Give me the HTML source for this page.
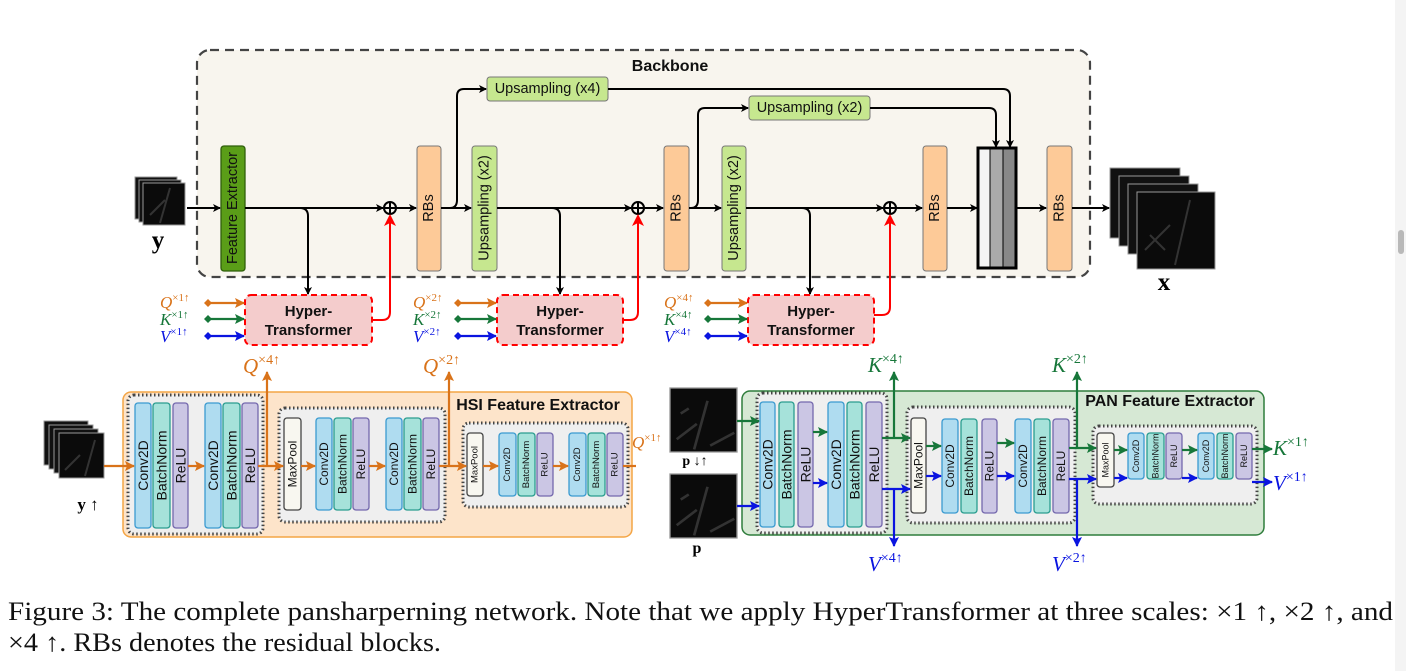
<!DOCTYPE html>
<html><head><meta charset="utf-8"><style>
html,body{margin:0;padding:0;background:#fff;}
svg{display:block;}
.lt{font-family:"Liberation Sans",sans-serif;fill:#111;}
.c{fill:#afdcf0;stroke:#3a9ad0;stroke-width:1.3}
.b{fill:#a6e2da;stroke:#2a9d8f;stroke-width:1.3}
.r{fill:#cbc6e4;stroke:#7468ad;stroke-width:1.3}
.m{fill:#f8f7f0;stroke:#444;stroke-width:1.3}
.k{stroke:#000;stroke-width:2;fill:none}
.rd{stroke:#f00;stroke-width:2;fill:none}
.o{stroke:#d9731a;stroke-width:2.2;fill:none}
.g{stroke:#17773a;stroke-width:2.2;fill:none}
.u{stroke:#0a14e0;stroke-width:2.2;fill:none}
.mt{font-family:"Liberation Serif",serif;font-style:italic;}
.sp{font-family:"Liberation Serif",serif;font-style:normal;}
</style></head><body>
<svg width="1406" height="671" viewBox="0 0 1406 671" xmlns="http://www.w3.org/2000/svg">
<defs>
<marker id="ak" markerWidth="8" markerHeight="8" refX="7" refY="4" orient="auto" markerUnits="userSpaceOnUse"><path d="M0,0 L8,4 L0,8 L2,4z" fill="#000"/></marker>
<marker id="ar" markerWidth="12" markerHeight="12" refX="10" refY="6" orient="auto" markerUnits="userSpaceOnUse"><path d="M0,0 L12,6 L0,12 L3,6z" fill="#f00"/></marker>
<marker id="ao" markerWidth="10" markerHeight="10" refX="9" refY="5" orient="auto" markerUnits="userSpaceOnUse"><path d="M0,0 L10,5 L0,10 L2,5z" fill="#d9731a"/></marker>
<marker id="ag" markerWidth="10" markerHeight="10" refX="9" refY="5" orient="auto" markerUnits="userSpaceOnUse"><path d="M0,0 L10,5 L0,10 L2,5z" fill="#17773a"/></marker>
<marker id="au" markerWidth="10" markerHeight="10" refX="9" refY="5" orient="auto" markerUnits="userSpaceOnUse"><path d="M0,0 L10,5 L0,10 L2,5z" fill="#0a14e0"/></marker>
<marker id="do" markerWidth="8" markerHeight="8" refX="4" refY="4" orient="auto" markerUnits="userSpaceOnUse"><path d="M0,4 L4,0 L8,4 L4,8z" fill="#d9731a"/></marker>
<marker id="dg" markerWidth="8" markerHeight="8" refX="4" refY="4" orient="auto" markerUnits="userSpaceOnUse"><path d="M0,4 L4,0 L8,4 L4,8z" fill="#17773a"/></marker>
<marker id="du" markerWidth="8" markerHeight="8" refX="4" refY="4" orient="auto" markerUnits="userSpaceOnUse"><path d="M0,4 L4,0 L8,4 L4,8z" fill="#0a14e0"/></marker>
<g id="img"><rect x="0" y="0" width="50" height="50" fill="#0b0b0b" stroke="#999" stroke-width="1"/><path d="M5,40 L20,28 M28,10 L18,48 M30,45 L48,35 M8,20 L14,16" stroke="#333" stroke-width="2"/></g>
</defs>
<rect x="1395" y="0" width="11" height="671" fill="#f4f4f4"/>
<rect x="1398" y="230" width="6" height="24" rx="3" fill="#b9b9b9"/>

<!-- Backbone -->
<rect x="197" y="50" width="893" height="227" rx="13" fill="#f8f5ee" stroke="#444" stroke-width="2.2" stroke-dasharray="9,6"/>
<text x="670" y="71" class="lt" font-size="16" font-weight="bold" text-anchor="middle">Backbone</text>

<!-- input cube y -->
<g><rect x="135" y="177" width="42" height="42" fill="#111" stroke="#999"/><rect x="139" y="180" width="42" height="42" fill="#111" stroke="#999"/><rect x="143" y="183" width="42" height="42" fill="#0b0b0b" stroke="#999"/><path d="M150,215 L165,200 M170,188 L160,223" stroke="#333" stroke-width="2"/></g>
<text x="158" y="248" font-family="Liberation Serif,serif" font-weight="bold" font-size="25" text-anchor="middle">y</text>

<!-- boxes -->
<rect x="221" y="146" width="24" height="125" rx="3" fill="#5a9d18" stroke="#2f5f0a" stroke-width="1.3"/>
<text transform="translate(233,208) rotate(-90)" class="lt" font-size="14.5" text-anchor="middle" dominant-baseline="central">Feature Extractor</text>
<rect x="417" y="146" width="24" height="125" rx="3" fill="#fdca98" stroke="#777" stroke-width="1"/>
<text transform="translate(429,208) rotate(-90)" class="lt" font-size="14.5" text-anchor="middle" dominant-baseline="central">RBs</text>
<rect x="472" y="146" width="25" height="125" rx="3" fill="#c6e78f" stroke="#777" stroke-width="1"/>
<text transform="translate(484.5,208) rotate(-90)" class="lt" font-size="14.5" text-anchor="middle" dominant-baseline="central">Upsampling (x2)</text>
<rect x="664" y="146" width="25" height="125" rx="3" fill="#fdca98" stroke="#777" stroke-width="1"/>
<text transform="translate(676.5,208) rotate(-90)" class="lt" font-size="14.5" text-anchor="middle" dominant-baseline="central">RBs</text>
<rect x="722" y="146" width="24" height="125" rx="3" fill="#c6e78f" stroke="#777" stroke-width="1"/>
<text transform="translate(734,208) rotate(-90)" class="lt" font-size="14.5" text-anchor="middle" dominant-baseline="central">Upsampling (x2)</text>
<rect x="923" y="146" width="24" height="125" rx="3" fill="#fdca98" stroke="#777" stroke-width="1"/>
<text transform="translate(935,208) rotate(-90)" class="lt" font-size="14.5" text-anchor="middle" dominant-baseline="central">RBs</text>
<rect x="1047" y="146" width="25" height="125" rx="3" fill="#fdca98" stroke="#777" stroke-width="1"/>
<text transform="translate(1059.5,208) rotate(-90)" class="lt" font-size="14.5" text-anchor="middle" dominant-baseline="central">RBs</text>
<rect x="487" y="77" width="121" height="24" rx="3" fill="#c6e78f" stroke="#777" stroke-width="1"/>
<text x="547.5" y="89" class="lt" font-size="14.5" text-anchor="middle" dominant-baseline="central">Upsampling (x4)</text>
<rect x="749" y="96" width="121" height="24" rx="3" fill="#c6e78f" stroke="#777" stroke-width="1"/>
<text x="809.5" y="108" class="lt" font-size="14.5" text-anchor="middle" dominant-baseline="central">Upsampling (x2)</text>
<!-- concat -->
<rect x="978" y="148" width="12" height="120" fill="#f4f4f4"/><rect x="990" y="148" width="13" height="120" fill="#aaa"/><rect x="1003" y="148" width="13" height="120" fill="#888"/>
<rect x="978" y="148" width="38" height="120" fill="none" stroke="#000" stroke-width="3"/>
<line x1="990" y1="148" x2="990" y2="268" stroke="#000"/><line x1="1003" y1="148" x2="1003" y2="268" stroke="#000"/>

<!-- output cube -->
<g><rect x="1110" y="168" width="70" height="70" fill="#111" stroke="#999"/><rect x="1119" y="176" width="70" height="70" fill="#111" stroke="#999"/><rect x="1128" y="184" width="70" height="70" fill="#111" stroke="#999"/><rect x="1137" y="192" width="78" height="77" fill="#0b0b0b" stroke="#999"/><path d="M1145,250 L1170,225 M1190,200 L1175,265 M1150,235 L1165,250" stroke="#333" stroke-width="2"/></g>
<text x="1164" y="290" font-family="Liberation Serif,serif" font-weight="bold" font-size="25" text-anchor="middle">x</text>

<!-- backbone connectors -->
<line class="k" x1="187" y1="208" x2="220" y2="208" marker-end="url(#ak)"/>
<line class="k" x1="245" y1="208" x2="383" y2="208" marker-end="url(#ak)"/>
<path class="k" d="M300,208 Q308,208 308,216 L308,294" marker-end="url(#ak)"/>
<line class="k" x1="396" y1="208" x2="416" y2="208" marker-end="url(#ak)"/>
<line class="k" x1="441" y1="208" x2="471" y2="208" marker-end="url(#ak)"/>
<path class="k" d="M450,208 Q457,208 457,200 L457,96 Q457,89 464,89 L486,89" marker-end="url(#ak)"/>
<line class="k" x1="497" y1="208" x2="631" y2="208" marker-end="url(#ak)"/>
<path class="k" d="M552,208 Q560,208 560,216 L560,294" marker-end="url(#ak)"/>
<line class="k" x1="644" y1="208" x2="663" y2="208" marker-end="url(#ak)"/>
<line class="k" x1="689" y1="208" x2="721" y2="208" marker-end="url(#ak)"/>
<path class="k" d="M691,208 Q698,208 698,200 L698,115 Q698,108 705,108 L748,108" marker-end="url(#ak)"/>
<line class="k" x1="746" y1="208" x2="883" y2="208" marker-end="url(#ak)"/>
<path class="k" d="M802,208 Q810,208 810,216 L810,294" marker-end="url(#ak)"/>
<line class="k" x1="896" y1="208" x2="922" y2="208" marker-end="url(#ak)"/>
<line class="k" x1="947" y1="208" x2="977" y2="208" marker-end="url(#ak)"/>
<line class="k" x1="1016" y1="208" x2="1046" y2="208" marker-end="url(#ak)"/>
<line class="k" x1="1072" y1="208" x2="1109" y2="208" marker-end="url(#ak)"/>
<path class="k" d="M608,89 L1003,89 Q1010,89 1010,96 L1010,147" marker-end="url(#ak)"/>
<path class="k" d="M870,108 L989,108 Q996,108 996,115 L996,147" marker-end="url(#ak)"/>
<!-- oplus -->
<g fill="none" stroke="#000" stroke-width="2"><circle cx="390" cy="208" r="6"/><path d="M384,208h12M390,202v12"/><circle cx="638" cy="208" r="6"/><path d="M632,208h12M638,202v12"/><circle cx="890" cy="208" r="6"/><path d="M884,208h12M890,202v12"/></g>
<!-- red -->
<path class="rd" d="M372,320 L382,320 Q390,320 390,312 L390,216" marker-end="url(#ar)"/>
<path class="rd" d="M623,320 L630,320 Q638,320 638,312 L638,216" marker-end="url(#ar)"/>
<path class="rd" d="M874,315 L882,315 Q890,315 890,307 L890,216" marker-end="url(#ar)"/>

<!-- Hyper-transformers -->
<g class="lt" font-size="15" font-weight="bold" text-anchor="middle">
<rect x="245" y="295" width="127" height="50" rx="6" fill="#f4cccc" stroke="#f00" stroke-width="2" stroke-dasharray="6,4"/>
<text x="308.5" y="316">Hyper-</text><text x="308.5" y="335">Transformer</text>
<rect x="497" y="295" width="126" height="50" rx="6" fill="#f4cccc" stroke="#f00" stroke-width="2" stroke-dasharray="6,4"/>
<text x="560" y="316">Hyper-</text><text x="560" y="335">Transformer</text>
<rect x="748" y="295" width="126" height="50" rx="6" fill="#f4cccc" stroke="#f00" stroke-width="2" stroke-dasharray="6,4"/>
<text x="811" y="316">Hyper-</text><text x="811" y="335">Transformer</text>
</g>
<!-- QKV inputs -->
<g font-size="17">
<text x="160" y="308" class="mt" fill="#d9731a">Q<tspan class="sp" font-size="11" dy="-7">×1↑</tspan></text>
<text x="160" y="325" class="mt" fill="#17773a">K<tspan class="sp" font-size="11" dy="-7">×1↑</tspan></text>
<text x="160" y="342" class="mt" fill="#0a14e0">V<tspan class="sp" font-size="11" dy="-7">×1↑</tspan></text>
<text x="413" y="308" class="mt" fill="#d9731a">Q<tspan class="sp" font-size="11" dy="-7">×2↑</tspan></text>
<text x="413" y="325" class="mt" fill="#17773a">K<tspan class="sp" font-size="11" dy="-7">×2↑</tspan></text>
<text x="413" y="342" class="mt" fill="#0a14e0">V<tspan class="sp" font-size="11" dy="-7">×2↑</tspan></text>
<text x="664" y="308" class="mt" fill="#d9731a">Q<tspan class="sp" font-size="11" dy="-7">×4↑</tspan></text>
<text x="664" y="325" class="mt" fill="#17773a">K<tspan class="sp" font-size="11" dy="-7">×4↑</tspan></text>
<text x="664" y="342" class="mt" fill="#0a14e0">V<tspan class="sp" font-size="11" dy="-7">×4↑</tspan></text>
</g>
<line class="o" x1="208" y1="303" x2="244" y2="303" marker-start="url(#do)" marker-end="url(#ao)"/>
<line class="g" x1="208" y1="319" x2="244" y2="319" marker-start="url(#dg)" marker-end="url(#ag)"/>
<line class="u" x1="208" y1="336" x2="244" y2="336" marker-start="url(#du)" marker-end="url(#au)"/>
<line class="o" x1="458" y1="303" x2="496" y2="303" marker-start="url(#do)" marker-end="url(#ao)"/>
<line class="g" x1="458" y1="319" x2="496" y2="319" marker-start="url(#dg)" marker-end="url(#ag)"/>
<line class="u" x1="458" y1="336" x2="496" y2="336" marker-start="url(#du)" marker-end="url(#au)"/>
<line class="o" x1="708" y1="303" x2="747" y2="303" marker-start="url(#do)" marker-end="url(#ao)"/>
<line class="g" x1="708" y1="319" x2="747" y2="319" marker-start="url(#dg)" marker-end="url(#ag)"/>
<line class="u" x1="708" y1="336" x2="747" y2="336" marker-start="url(#du)" marker-end="url(#au)"/>

<!-- HSI feature extractor -->
<rect x="123" y="392" width="509" height="145" rx="8" fill="#fde4ca" stroke="#f4a545" stroke-width="1.5"/>
<text x="538" y="410" class="lt" font-size="16" font-weight="bold" text-anchor="middle">HSI Feature Extractor</text>
<rect x="128" y="395" width="135" height="139" rx="6" fill="#efefef" stroke="#444" stroke-width="3" stroke-dasharray="1.5,2.5"/>
<rect x="279" y="408" width="166" height="114" rx="6" fill="#efefef" stroke="#444" stroke-width="3" stroke-dasharray="1.5,2.5"/>
<rect x="463" y="423" width="165" height="84" rx="6" fill="#efefef" stroke="#444" stroke-width="3" stroke-dasharray="1.5,2.5"/>
<g class="lt" text-anchor="middle" dominant-baseline="central">
<g font-size="14">
<rect class="c" x="135" y="403" width="16" height="125" rx="3"/><text transform="translate(143,465.5) rotate(-90)">Conv2D</text>
<rect class="b" x="153" y="403" width="17" height="125" rx="3"/><text transform="translate(161.5,465.5) rotate(-90)">BatchNorm</text>
<rect class="r" x="173" y="403" width="15" height="125" rx="3"/><text transform="translate(180.5,465.5) rotate(-90)">ReLU</text>
<rect class="c" x="205" y="403" width="16" height="125" rx="3"/><text transform="translate(213,465.5) rotate(-90)">Conv2D</text>
<rect class="b" x="223" y="403" width="17" height="125" rx="3"/><text transform="translate(231.5,465.5) rotate(-90)">BatchNorm</text>
<rect class="r" x="242" y="403" width="16" height="125" rx="3"/><text transform="translate(250,465.5) rotate(-90)">ReLU</text>
</g>
<g font-size="12">
<rect class="m" x="284" y="418" width="17" height="92" rx="3"/><text transform="translate(292.5,464) rotate(-90)">MaxPool</text>
<rect class="c" x="316" y="418" width="16" height="92" rx="3"/><text transform="translate(324,464) rotate(-90)">Conv2D</text>
<rect class="b" x="334" y="418" width="17" height="92" rx="3"/><text transform="translate(342.5,464) rotate(-90)">BatchNorm</text>
<rect class="r" x="353" y="418" width="16" height="92" rx="3"/><text transform="translate(361,464) rotate(-90)">ReLU</text>
<rect class="c" x="386" y="418" width="16" height="92" rx="3"/><text transform="translate(394,464) rotate(-90)">Conv2D</text>
<rect class="b" x="404" y="418" width="17" height="92" rx="3"/><text transform="translate(412.5,464) rotate(-90)">BatchNorm</text>
<rect class="r" x="423" y="418" width="16" height="92" rx="3"/><text transform="translate(431,464) rotate(-90)">ReLU</text>
</g>
<g font-size="9.5">
<rect class="m" x="467" y="433" width="16" height="63" rx="3"/><text transform="translate(475,464.5) rotate(-90)">MaxPool</text>
<rect class="c" x="499" y="433" width="17" height="63" rx="3"/><text transform="translate(507.5,464.5) rotate(-90)">Conv2D</text>
<rect class="b" x="518" y="433" width="17" height="63" rx="3"/><text transform="translate(526.5,464.5) rotate(-90)">BatchNorm</text>
<rect class="r" x="537" y="433" width="16" height="63" rx="3"/><text transform="translate(545,464.5) rotate(-90)">ReLU</text>
<rect class="c" x="569" y="433" width="17" height="63" rx="3"/><text transform="translate(577.5,464.5) rotate(-90)">Conv2D</text>
<rect class="b" x="588" y="433" width="17" height="63" rx="3"/><text transform="translate(596.5,464.5) rotate(-90)">BatchNorm</text>
<rect class="r" x="607" y="433" width="16" height="63" rx="3"/><text transform="translate(615,464.5) rotate(-90)">ReLU</text>
</g>
</g>
<!-- HSI input cube -->
<g><rect x="44" y="421" width="44" height="44" fill="#111" stroke="#999"/><rect x="49" y="425" width="44" height="44" fill="#111" stroke="#999"/><rect x="54" y="429" width="44" height="44" fill="#111" stroke="#999"/><rect x="59" y="433" width="45" height="45" fill="#0b0b0b" stroke="#999"/><path d="M65,470 L80,455 M95,440 L85,476" stroke="#333" stroke-width="2"/></g>
<text x="88" y="510" font-family="Liberation Serif,serif" font-size="17" text-anchor="middle"><tspan font-weight="bold">y</tspan> ↑</text>
<!-- HSI arrows -->
<line class="o" x1="104" y1="466" x2="134" y2="466" marker-end="url(#ao)"/>
<line class="o" x1="188" y1="466" x2="204" y2="466" marker-end="url(#ao)"/>
<line class="o" x1="258" y1="466" x2="283" y2="466" marker-end="url(#ao)"/>
<line class="o" x1="267" y1="466" x2="267" y2="372" marker-end="url(#ao)"/>
<line class="o" x1="301" y1="466" x2="315" y2="466" marker-end="url(#ao)"/>
<line class="o" x1="369" y1="466" x2="385" y2="466" marker-end="url(#ao)"/>
<line class="o" x1="439" y1="466" x2="466" y2="466" marker-end="url(#ao)"/>
<line class="o" x1="449" y1="466" x2="449" y2="372" marker-end="url(#ao)"/>
<line class="o" x1="483" y1="466" x2="498" y2="466" marker-end="url(#ao)"/>
<line class="o" x1="553" y1="466" x2="568" y2="466" marker-end="url(#ao)"/>
<line class="o" x1="623" y1="466" x2="636" y2="466"/>
<text x="243" y="373" class="mt" font-size="21" fill="#d9731a">Q<tspan class="sp" font-size="14" dy="-9">×4↑</tspan></text>
<text x="423" y="373" class="mt" font-size="21" fill="#d9731a">Q<tspan class="sp" font-size="14" dy="-9">×2↑</tspan></text>
<text x="632" y="448" class="mt" font-size="17" fill="#d9731a">Q<tspan class="sp" font-size="11" dy="-7">×1↑</tspan></text>

<!-- PAN -->
<use href="#img" transform="translate(670,388) scale(1.34,1.28)"/>
<text x="695" y="465" font-family="Liberation Serif,serif" font-size="14" text-anchor="middle"><tspan font-weight="bold">p</tspan> ↓↑</text>
<use href="#img" transform="translate(670,474) scale(1.34,1.28)"/>
<text x="697" y="553" font-family="Liberation Serif,serif" font-weight="bold" font-size="16" text-anchor="middle">p</text>

<rect x="742" y="391" width="522" height="144" rx="8" fill="#d6e8d4" stroke="#2f7d3c" stroke-width="1.5"/>
<text x="1170" y="406" class="lt" font-size="16" font-weight="bold" text-anchor="middle">PAN Feature Extractor</text>
<rect x="757" y="393" width="130" height="140" rx="6" fill="#efefef" stroke="#444" stroke-width="3" stroke-dasharray="1.5,2.5"/>
<rect x="907" y="407" width="168" height="116" rx="6" fill="#efefef" stroke="#444" stroke-width="3" stroke-dasharray="1.5,2.5"/>
<rect x="1093" y="426" width="164" height="78" rx="6" fill="#efefef" stroke="#444" stroke-width="3" stroke-dasharray="1.5,2.5"/>
<g class="lt" text-anchor="middle" dominant-baseline="central">
<g font-size="14">
<rect class="c" x="760" y="402" width="15" height="125" rx="3"/><text transform="translate(767.5,464.5) rotate(-90)">Conv2D</text>
<rect class="b" x="779" y="402" width="15" height="125" rx="3"/><text transform="translate(786.5,464.5) rotate(-90)">BatchNorm</text>
<rect class="r" x="798" y="402" width="15" height="125" rx="3"/><text transform="translate(805.5,464.5) rotate(-90)">ReLU</text>
<rect class="c" x="828" y="402" width="16" height="125" rx="3"/><text transform="translate(836,464.5) rotate(-90)">Conv2D</text>
<rect class="b" x="847" y="402" width="15" height="125" rx="3"/><text transform="translate(854.5,464.5) rotate(-90)">BatchNorm</text>
<rect class="r" x="866" y="402" width="16" height="125" rx="3"/><text transform="translate(874,464.5) rotate(-90)">ReLU</text>
</g>
<g font-size="12">
<rect class="m" x="911" y="418" width="15" height="95" rx="3"/><text transform="translate(918.5,465.5) rotate(-90)">MaxPool</text>
<rect class="c" x="942" y="419" width="16" height="94" rx="3"/><text transform="translate(950,466) rotate(-90)">Conv2D</text>
<rect class="b" x="961" y="419" width="16" height="94" rx="3"/><text transform="translate(969,466) rotate(-90)">BatchNorm</text>
<rect class="r" x="982" y="419" width="15" height="94" rx="3"/><text transform="translate(989.5,466) rotate(-90)">ReLU</text>
<rect class="c" x="1015" y="419" width="16" height="94" rx="3"/><text transform="translate(1023,466) rotate(-90)">Conv2D</text>
<rect class="b" x="1034" y="419" width="16" height="94" rx="3"/><text transform="translate(1042,466) rotate(-90)">BatchNorm</text>
<rect class="r" x="1053" y="419" width="16" height="94" rx="3"/><text transform="translate(1061,466) rotate(-90)">ReLU</text>
</g>
<g font-size="9">
<rect class="m" x="1097" y="433" width="17" height="54" rx="3"/><text transform="translate(1105.5,460) rotate(-90)">MaxPool</text>
<rect class="c" x="1128" y="433" width="16" height="46" rx="3"/><text transform="translate(1136,456) rotate(-90)">Conv2D</text>
<rect class="b" x="1147" y="433" width="17" height="46" rx="3"/><text transform="translate(1155.5,456) rotate(-90)">BatchNorm</text>
<rect class="r" x="1166" y="433" width="16" height="46" rx="3"/><text transform="translate(1174,456) rotate(-90)">ReLU</text>
<rect class="c" x="1198" y="433" width="16" height="46" rx="3"/><text transform="translate(1206,456) rotate(-90)">Conv2D</text>
<rect class="b" x="1217" y="433" width="16" height="46" rx="3"/><text transform="translate(1225,456) rotate(-90)">BatchNorm</text>
<rect class="r" x="1236" y="433" width="16" height="46" rx="3"/><text transform="translate(1244,456) rotate(-90)">ReLU</text>
</g>
</g>
<!-- PAN arrows -->
<line class="g" x1="737" y1="421" x2="759" y2="421" marker-end="url(#ag)"/>
<line class="u" x1="737" y1="506" x2="759" y2="506" marker-end="url(#au)"/>
<line class="g" x1="813" y1="432" x2="827" y2="432" marker-end="url(#ag)"/>
<line class="u" x1="813" y1="483" x2="827" y2="483" marker-end="url(#au)"/>
<line class="g" x1="882" y1="438" x2="910" y2="438" marker-end="url(#ag)"/>
<line class="u" x1="882" y1="489" x2="910" y2="489" marker-end="url(#au)"/>
<line class="g" x1="894" y1="438" x2="894" y2="372" marker-end="url(#ag)"/>
<line class="u" x1="894" y1="489" x2="894" y2="546" marker-end="url(#au)"/>
<line class="g" x1="926" y1="446" x2="941" y2="446" marker-end="url(#ag)"/>
<line class="u" x1="926" y1="476" x2="941" y2="476" marker-end="url(#au)"/>
<line class="g" x1="997" y1="443" x2="1014" y2="443" marker-end="url(#ag)"/>
<line class="u" x1="997" y1="476" x2="1014" y2="476" marker-end="url(#au)"/>
<line class="g" x1="1069" y1="448" x2="1096" y2="448" marker-end="url(#ag)"/>
<line class="u" x1="1069" y1="479" x2="1096" y2="479" marker-end="url(#au)"/>
<line class="g" x1="1077" y1="448" x2="1077" y2="372" marker-end="url(#ag)"/>
<line class="u" x1="1077" y1="479" x2="1077" y2="546" marker-end="url(#au)"/>
<line class="g" x1="1114" y1="450" x2="1127" y2="450" marker-end="url(#ag)"/>
<line class="u" x1="1114" y1="478" x2="1127" y2="478" marker-end="url(#au)"/>
<line class="g" x1="1182" y1="450" x2="1197" y2="450" marker-end="url(#ag)"/>
<line class="u" x1="1182" y1="478" x2="1197" y2="478" marker-end="url(#au)"/>
<line class="g" x1="1252" y1="449" x2="1272" y2="449" marker-end="url(#ag)"/>
<line class="u" x1="1252" y1="482" x2="1272" y2="482" marker-end="url(#au)"/>
<text x="868" y="372" class="mt" font-size="21" fill="#17773a">K<tspan class="sp" font-size="14" dy="-9">×4↑</tspan></text>
<text x="1052" y="372" class="mt" font-size="21" fill="#17773a">K<tspan class="sp" font-size="14" dy="-9">×2↑</tspan></text>
<text x="868" y="571" class="mt" font-size="21" fill="#0a14e0">V<tspan class="sp" font-size="14" dy="-9">×4↑</tspan></text>
<text x="1052" y="571" class="mt" font-size="21" fill="#0a14e0">V<tspan class="sp" font-size="14" dy="-9">×2↑</tspan></text>
<text x="1273" y="455" class="mt" font-size="21" fill="#17773a">K<tspan class="sp" font-size="14" dy="-9">×1↑</tspan></text>
<text x="1273" y="490" class="mt" font-size="21" fill="#0a14e0">V<tspan class="sp" font-size="14" dy="-9">×1↑</tspan></text>

<!-- caption -->
<text x="8" y="620" font-family="Liberation Serif,serif" font-size="26" fill="#111" textLength="1385" lengthAdjust="spacingAndGlyphs">Figure 3: The complete pansharperning network. Note that we apply HyperTransformer at three scales: ×1 ↑, ×2 ↑, and</text>
<text x="8" y="651" font-family="Liberation Serif,serif" font-size="26" fill="#111" textLength="433" lengthAdjust="spacingAndGlyphs">×4 ↑. RBs denotes the residual blocks.</text>
</svg>
</body></html>
